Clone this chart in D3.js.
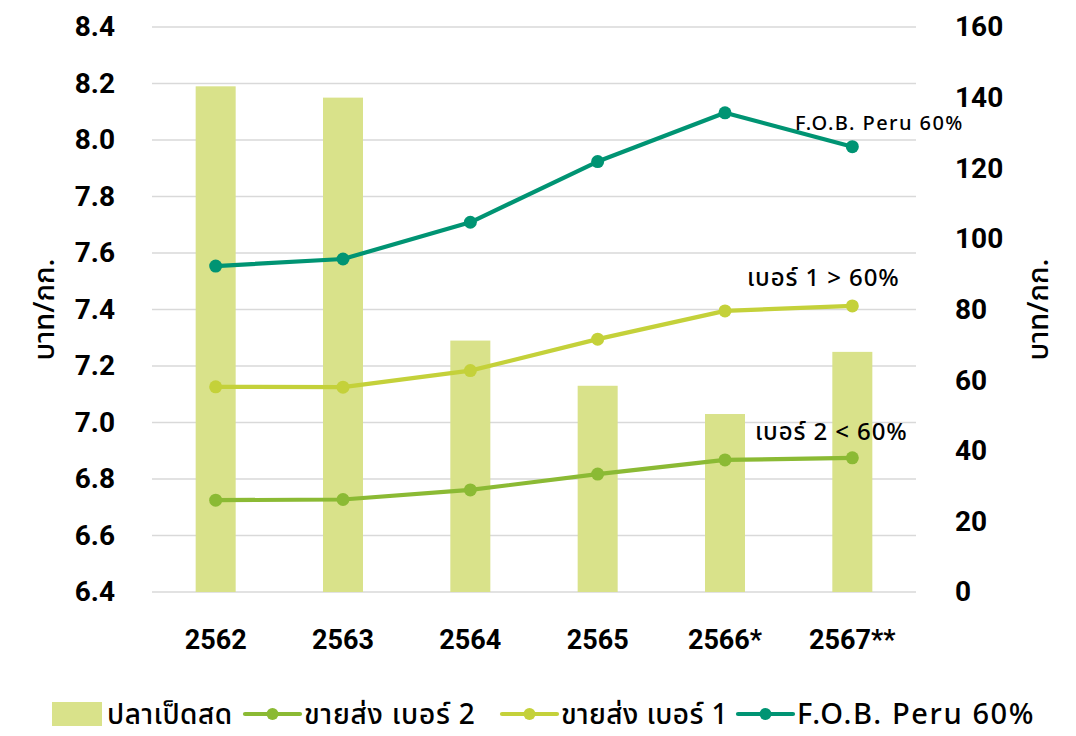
<!DOCTYPE html>
<html>
<head>
<meta charset="utf-8">
<script src="https://cdn.jsdelivr.net/npm/d3@7"></script>
<style>
  html, body { margin: 0; padding: 0; background: #fff; }
  svg { display: block; }
  text { font-family: "Noto Sans Thai", "Noto Sans", Roboto, "DejaVu Sans", sans-serif; fill: #000; }
</style>
</head>
<body>
<svg id="chart" width="1076" height="736"></svg>
<script>
// Years (Thai Buddhist era)
const years = ["2562", "2563", "2564", "2565", "2566*", "2567**"];

// Fresh trash fish price, baht/kg (left axis)
const trashFish = [8.19, 8.15, 7.29, 7.13, 7.03, 7.25];

// Fishmeal prices, baht/kg (right axis)
const wholesaleGrade2 = [26.0, 26.2, 28.9, 33.4, 37.4, 38.0];
const wholesaleGrade1 = [58.1, 58.0, 62.7, 71.6, 79.6, 81.0];
const fobPeru = [92.3, 94.3, 104.7, 121.9, 135.7, 126.1];

// Axis ticks
const leftTicks = [6.4, 6.6, 6.8, 7.0, 7.2, 7.4, 7.6, 7.8, 8.0, 8.2, 8.4];
const rightTicks = [0, 20, 40, 60, 80, 100, 120, 140, 160];

// Series labels
const barName = "ปลาเป็ดสด";
const lineNames = ["ขายส่ง เบอร์ 2", "ขายส่ง เบอร์ 1", "F.O.B. Peru 60%"];
const lineTags = ["เบอร์ 2 < 60%", "เบอร์ 1 > 60%", "F.O.B. Peru 60%"];
const axisTitle = "บาท/กก.";

const barColor = "#d9e28a";
const lineColors = ["#8bba34", "#c4d13a", "#009473"];

const lineSeries = [wholesaleGrade2, wholesaleGrade1, fobPeru];

const svg = d3.select("#chart");
const plot = { left: 152, right: 916, top: 27, bottom: 592 };

const x = d3.scaleBand().domain(years).range([plot.left, plot.right]).padding(0);
const yL = d3.scaleLinear().domain([6.4, 8.4]).range([plot.bottom, plot.top]);
const yR = d3.scaleLinear().domain([0, 160]).range([plot.bottom, plot.top]);
const cx = d => x(d) + x.bandwidth() / 2;

// Gridlines
svg.append("g").selectAll("line").data(leftTicks).join("line")
  .attr("x1", plot.left).attr("x2", plot.right)
  .attr("y1", d => yL(d)).attr("y2", d => yL(d))
  .attr("stroke", "#d9d9d9").attr("stroke-width", 1.4);

// Left axis labels
const leftAxis = d3.axisLeft(yL).tickValues(leftTicks).tickFormat(d3.format(".1f")).tickSize(0).tickPadding(37);
svg.append("g").attr("transform", `translate(${plot.left},0)`).call(leftAxis)
  .call(g => g.select(".domain").remove())
  .selectAll("text").attr("font-size", 28).attr("font-weight", 700)
  .style("font-family", "Roboto, 'Noto Sans', sans-serif");

// Right axis labels
const rightAxis = d3.axisRight(yR).tickValues(rightTicks).tickFormat(d3.format("d")).tickSize(0).tickPadding(39);
svg.append("g").attr("transform", `translate(${plot.right},0)`).call(rightAxis)
  .call(g => g.select(".domain").remove())
  .selectAll("text").attr("font-size", 28).attr("font-weight", 700)
  .style("font-family", "Roboto, 'Noto Sans', sans-serif");

// Category axis
const bottomAxis = d3.axisBottom(x).tickSize(0).tickPadding(38);
svg.append("g").attr("transform", `translate(0,${plot.bottom})`).call(bottomAxis)
  .call(g => g.select(".domain").remove())
  .selectAll("text").attr("font-size", 27).attr("font-weight", 700)
  .style("font-family", "Roboto, 'Noto Sans', sans-serif");

// Axis titles
svg.append("text").attr("transform", `translate(54,${(plot.top + plot.bottom) / 2}) rotate(-90)`)
  .attr("text-anchor", "middle").attr("font-size", 29).attr("font-weight", 500).text(axisTitle);
svg.append("text").attr("transform", `translate(1048,${(plot.top + plot.bottom) / 2}) rotate(-90)`)
  .attr("text-anchor", "middle").attr("font-size", 29).attr("font-weight", 500).text(axisTitle);

// Bars
const barW = 40;
svg.append("g").selectAll("rect").data(trashFish).join("rect")
  .attr("x", (d, i) => cx(years[i]) - barW / 2)
  .attr("width", barW)
  .attr("y", d => yL(d))
  .attr("height", d => plot.bottom - yL(d))
  .attr("fill", barColor);

// Lines with markers
const line = d3.line().x((d, i) => cx(years[i])).y(d => yR(d));
lineSeries.forEach((vals, k) => {
  const g = svg.append("g");
  g.append("path").datum(vals).attr("d", line)
    .attr("fill", "none").attr("stroke", lineColors[k]).attr("stroke-width", 4.2)
    .attr("stroke-linejoin", "round");
  g.selectAll("circle").data(vals).join("circle")
    .attr("cx", (d, i) => cx(years[i])).attr("cy", d => yR(d)).attr("r", 6.5)
    .attr("fill", lineColors[k]);
});

// Series tags next to the last points
const tagStyle = [
  { x: 755, dy: -18, size: 24, ls: 0.9 },
  { x: 747, dy: -20, size: 24, ls: 0.9 },
  { x: 795, dy: -17, size: 20, ls: 1.4 }
];
lineSeries.forEach((vals, k) => {
  const last = vals[vals.length - 1];
  svg.append("text")
    .attr("x", tagStyle[k].x)
    .attr("y", yR(last) + tagStyle[k].dy)
    .attr("font-size", tagStyle[k].size).attr("font-weight", 500)
    .attr("letter-spacing", tagStyle[k].ls)
    .text(lineTags[k]);
});

// Legend
const legend = svg.append("g").attr("transform", "translate(0,714)");
legend.append("rect").attr("x", 52).attr("y", -12).attr("width", 50).attr("height", 24).attr("fill", barColor);
legend.append("text").attr("x", 107).attr("y", 10).attr("font-size", 28).attr("font-weight", 500)
  .attr("letter-spacing", 0.5).text(barName);

const legendX = [245, 502, 738];
const legendLs = [0.8, 0.4, 1.6];
const legendSize = [28, 28, 29];
lineNames.forEach((name, k) => {
  const lx = legendX[k];
  legend.append("line").attr("x1", lx).attr("x2", lx + 55).attr("y1", 0).attr("y2", 0)
    .attr("stroke", lineColors[k]).attr("stroke-width", 4.2).attr("stroke-linecap", "round");
  legend.append("circle").attr("cx", lx + 27.5).attr("cy", 0).attr("r", 6).attr("fill", lineColors[k]);
  legend.append("text").attr("x", lx + 59).attr("y", 10)
    .attr("font-size", legendSize[k]).attr("font-weight", 500)
    .attr("letter-spacing", legendLs[k]).text(name);
});
</script>
</body>
</html>
